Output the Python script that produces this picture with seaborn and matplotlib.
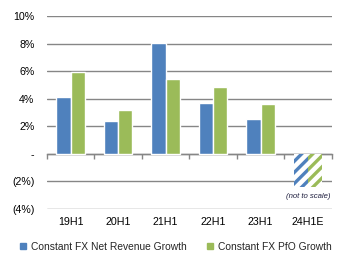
import matplotlib
matplotlib.use("Agg")
import matplotlib.pyplot as plt
import seaborn as sns
import pandas as pd
from matplotlib.ticker import FuncFormatter, FixedLocator
from matplotlib.lines import Line2D

categories = ["19H1", "20H1", "21H1", "22H1", "23H1", "24H1E"]
net_revenue_growth = [4.1, 2.4, 8.05, 3.7, 2.55, -2.4]
pfo_growth = [5.9, 3.2, 5.4, 4.85, 3.6, -2.4]
series_names = ["Constant FX Net Revenue Growth", "Constant FX PfO Growth"]
colors = ["#4F81BD", "#9BBB59"]

df = pd.DataFrame({
    "cat": categories * 2,
    "val": net_revenue_growth + pfo_growth,
    "series": [series_names[0]] * len(categories) + [series_names[1]] * len(categories),
})

sns.set_style("white")
plt.rcParams["font.family"] = ["Liberation Sans", "DejaVu Sans"]
plt.rcParams["hatch.linewidth"] = 2.4

fig = plt.figure(figsize=(3.4, 2.61), dpi=100)
ax = fig.add_axes([0.138, 0.199, 0.838, 0.74])

sns.barplot(data=df, x="cat", y="val", hue="series", palette=colors,
            width=0.6, gap=0, ax=ax, legend=False, saturation=1)

# hatch the estimate bars
n = len(categories)
for i, cont in enumerate(ax.containers):
    bar = cont.patches[n - 1]
    bar.set_facecolor("white")
    bar.set_edgecolor(colors[i])
    bar.set_hatch("///")
    bar.set_linewidth(0)

ax.set_ylim(-4, 10)
ax.set_xlim(-0.5, n - 0.5)
ax.yaxis.set_major_locator(FixedLocator([-4, -2, 0, 2, 4, 6, 8, 10]))

def fmt(v, pos):
    if abs(v) < 1e-9:
        return "-"
    if v < 0:
        return f"({abs(v):.0f}%)"
    return f"{v:.0f}%"

ax.yaxis.set_major_formatter(FuncFormatter(fmt))
ax.grid(axis="y", color="#868686", linewidth=1.0)
ax.set_axisbelow(True)
for s in ax.spines.values():
    s.set_visible(False)
ax.tick_params(axis="y", length=0, pad=9, labelsize=7.7, labelcolor="black")
ax.tick_params(axis="x", length=0, pad=6, labelsize=7.7, labelcolor="black")
ax.set_xlabel("")
ax.set_ylabel("")

# axis line at zero with boundary tick marks
sec = ax.secondary_xaxis((0 - (-4)) / 14)
sec.set_xticks([i - 0.5 for i in range(n + 1)])
sec.set_xticklabels([])
sec.tick_params(axis="x", length=3.5, color="#868686", width=1, direction="out")
sec.spines["bottom"].set_color("#868686")
sec.spines["bottom"].set_linewidth(1.0)

ax.text(n - 1, -2.8, "(not to scale)", ha="center", va="top",
        fontsize=5.6, style="italic", color="#1F1F3F")

handles = [Line2D([], [], marker="s", linestyle="", markersize=5,
                  markerfacecolor=c, markeredgecolor=c) for c in colors]
fig.legend(handles, series_names, loc="lower center", ncol=2,
           bbox_to_anchor=(0.515, 0.0), frameon=False, fontsize=7.4,
           handletextpad=0.35, columnspacing=1.9, handlelength=0.8)

fig.savefig("out.png", dpi=100)
